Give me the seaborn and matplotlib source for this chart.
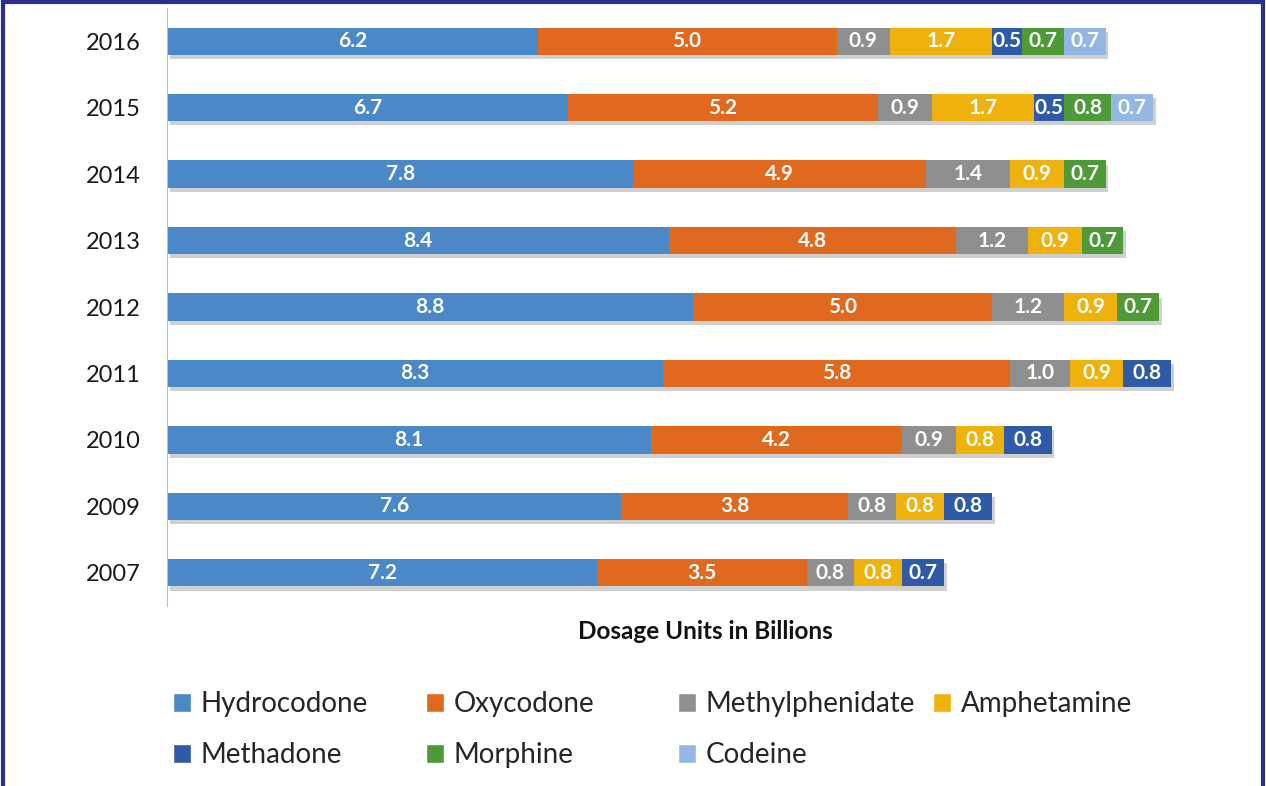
import matplotlib.pyplot as plt
import matplotlib.patheffects as pe
from matplotlib.patches import Rectangle, Patch
import seaborn as sns
import numpy as np
import pandas as pd

years = ["2016", "2015", "2014", "2013", "2012", "2011", "2010", "2009", "2007"]
drugs = ["Hydrocodone", "Oxycodone", "Methylphenidate", "Amphetamine",
         "Methadone", "Morphine", "Codeine"]
hydrocodone = [6.2, 6.7, 7.8, 8.4, 8.8, 8.3, 8.1, 7.6, 7.2]
oxycodone = [5.0, 5.2, 4.9, 4.8, 5.0, 5.8, 4.2, 3.8, 3.5]
methylphenidate = [0.9, 0.9, 1.4, 1.2, 1.2, 1.0, 0.9, 0.8, 0.8]
amphetamine = [1.7, 1.7, 0.9, 0.9, 0.9, 0.9, 0.8, 0.8, 0.8]
methadone = [0.5, 0.5, 0, 0, 0, 0.8, 0.8, 0.8, 0.7]
morphine = [0.7, 0.8, 0.7, 0.7, 0.7, 0, 0, 0, 0]
codeine = [0.7, 0.7, 0, 0, 0, 0, 0, 0, 0]

colors = ["#4a88c8", "#e0691f", "#8f8f8f", "#efb20c", "#2f5aa8", "#4f9a38", "#93b6e2"]

sns.set_style("white")
plt.rcParams["font.family"] = ["Lato", "DejaVu Sans"]

series = [hydrocodone, oxycodone, methylphenidate, amphetamine, methadone, morphine, codeine]
vals = np.array(series)
cum = np.cumsum(vals, axis=0)

fig = plt.figure(figsize=(12.66, 7.86), dpi=100)
ax = fig.add_axes([167 / 1266, 1 - 606 / 786, (1243 - 167) / 1266, 598 / 786])

# draw cumulative bars from the outermost to the innermost
for i in range(len(drugs) - 1, -1, -1):
    df = pd.DataFrame({"year": years, "value": cum[i]})
    sns.barplot(data=df, x="value", y="year", order=years, orient="h",
                color=colors[i], width=0.41, saturation=1, ax=ax, errorbar=None,
                linewidth=0)
    if i == len(drugs) - 1:
        for bar in ax.patches:
            bar.set_path_effects([pe.SimplePatchShadow(offset=(2, -3), shadow_rgbFace="#888888", alpha=0.4),
                                  pe.Normal()])

# value labels
for i in range(len(drugs)):
    for j, y in enumerate(years):
        v = vals[i, j]
        if v > 0:
            ax.text(cum[i, j] - v / 2, j, f"{v:.1f}", ha="center", va="center",
                    color="white", fontsize=15, fontweight="bold")

ax.set_xlim(0, 18)
ax.set_ylim(len(years) - 0.5, -0.5)
ax.set_xticks([])
ax.set_ylabel("")
ax.set_xlabel("Dosage Units in Billions", fontsize=17.5, fontweight="bold", labelpad=10,
              color="#111111")
ax.tick_params(axis="y", which="major", length=0, labelsize=17, pad=19, labelcolor="#1a1a1a")
ax.set_yticks(np.arange(-0.5, len(years) + 0.5, 1), minor=True)
ax.tick_params(axis="y", which="minor", length=6, color="#c0c0c0", width=1)
for s in ["top", "right", "bottom"]:
    ax.spines[s].set_visible(False)
ax.spines["left"].set_color("#c0c0c0")

# legend: two rows, four evenly spaced columns
handles = [Patch(facecolor=c, label=d) for c, d in zip(colors, drugs)]
col_x = [173, 426, 678, 933]
columns = [[0, 4], [1, 5], [2, 6], [3]]
for cx, members in zip(col_x, columns):
    fig.legend([handles[k] for k in members], [drugs[k] for k in members],
               loc="upper left", bbox_to_anchor=(cx / 1266, 1 - 691 / 786),
               frameon=False, fontsize=20, handlelength=0.65, handleheight=0.65,
               handletextpad=0.35, labelspacing=0.9, borderpad=0, borderaxespad=0)

fig.patches.append(Rectangle((0.002, -0.01), 0.996, 1.007, transform=fig.transFigure,
                             fill=False, edgecolor="#2b2f8f", linewidth=3))

fig.savefig("out.png", dpi=100)
